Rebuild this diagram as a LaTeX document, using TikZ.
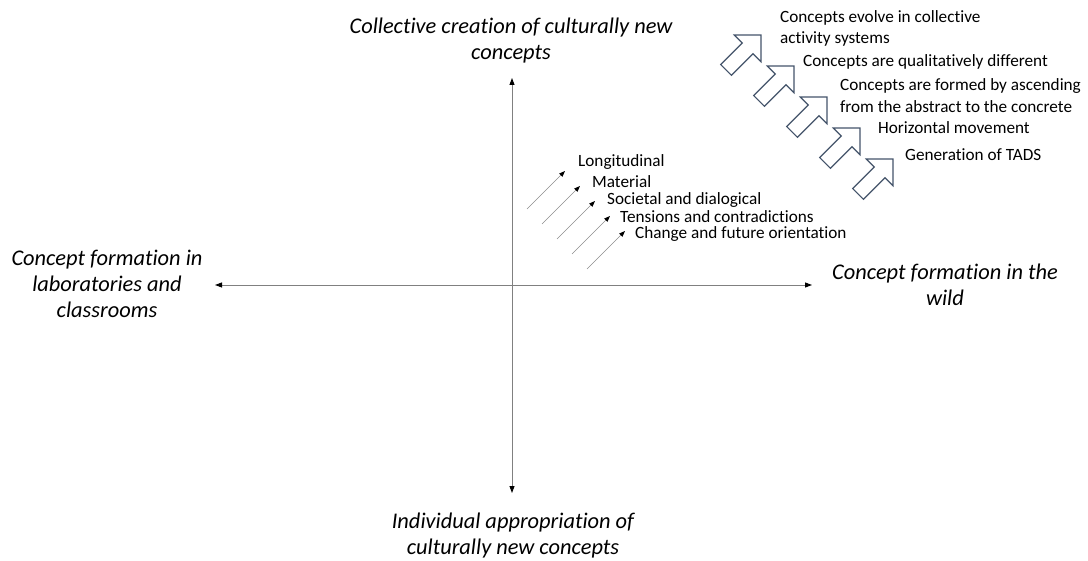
\documentclass[tikz,border=0pt]{standalone}
\usepackage{fontspec}
\setmainfont{Carlito}[Ligatures={NoCommon}]
\usetikzlibrary{arrows.meta}
\definecolor{blk}{HTML}{44546A}
\tikzset{
  axislabel/.style={font=\fontsize{22.4}{26}\selectfont\itshape, align=center, inner sep=0pt},
  smalllabel/.style={font=\fontsize{17.2}{21.5}\selectfont, align=left, anchor=west, inner sep=0pt},
  axisline/.style={draw=gray, line width=0.9pt, {Triangle[length=7pt,width=5pt,color=black]}-{Triangle[length=7pt,width=5pt,color=black]}},
  thinarrow/.style={draw=gray!90, line width=0.7pt, -{Triangle[length=6pt,width=4.5pt,color=black]}},
  blockarrow/.style={draw=blk, line width=1.2pt, fill=white, line join=miter}
}
\begin{document}
\begin{tikzpicture}[x=1pt,y=-1pt]
\useasboundingbox (0,0) rectangle (1088,561);
% axes
\coordinate (top) at (512,78);
\coordinate (bot) at (512,493);
\coordinate (lft) at (215,285);
\coordinate (rgt) at (812,285);
\draw[axisline] (bot) -- (top);
\draw[axisline] (lft) -- (rgt);
% axis labels
\node[axislabel] (ltop) at (511,41) {Collective creation of culturally new\\concepts};
\node[axislabel] (lbot) at (513,536) {Individual appropriation of\\culturally new concepts};
\node[axislabel] (llft) at (107,284) {Concept formation in\\laboratories and\\classrooms};
\node[axislabel] (lrgt) at (945,285) {Concept formation in the\\wild};
% thin arrows
\foreach \i/\sx/\sy/\tx/\ty in {1/527/209/565/171, 2/542/224/580/186, 3/557/239/595/201, 4/572/254/610/216, 5/587/269/625/231}{
  \coordinate (s\i) at (\sx,\sy);
  \coordinate (t\i) at (\tx,\ty);
  \draw[thinarrow] (s\i) -- (t\i);
}
\node[smalllabel] (a1) at (578,162) {Longitudinal};
\node[smalllabel] (a2) at (592,182) {Material};
\node[smalllabel] (a3) at (607,200) {Societal and dialogical};
\node[smalllabel] (a4) at (620,217) {Tensions and contradictions};
\node[smalllabel] (a5) at (635,234) {Change and future orientation};
% block arrows
\foreach \tx/\ty in {761/35, 794/66, 827/97, 860/128, 893/159}{
  \draw[blockarrow, shift={(\tx,\ty)}] (0,0) -- (-26.7,0) -- (-18.7,8.0) -- (-40.3,29.6) -- (-29.6,40.3) -- (-8.0,18.7) -- (0,26.7) -- cycle;
}
\node[smalllabel] (b1) at (780,28.5) {Concepts evolve in collective\\activity systems};
\node[smalllabel] (b2) at (803,62) {Concepts are qualitatively different};
\node[smalllabel] (b3) at (840,95.5) {Concepts are formed by ascending\\from the abstract to the concrete};
\node[smalllabel] (b4) at (878,128) {Horizontal movement};
\node[smalllabel] (b5) at (905,155) {Generation of TADS};
\end{tikzpicture}
\end{document}
